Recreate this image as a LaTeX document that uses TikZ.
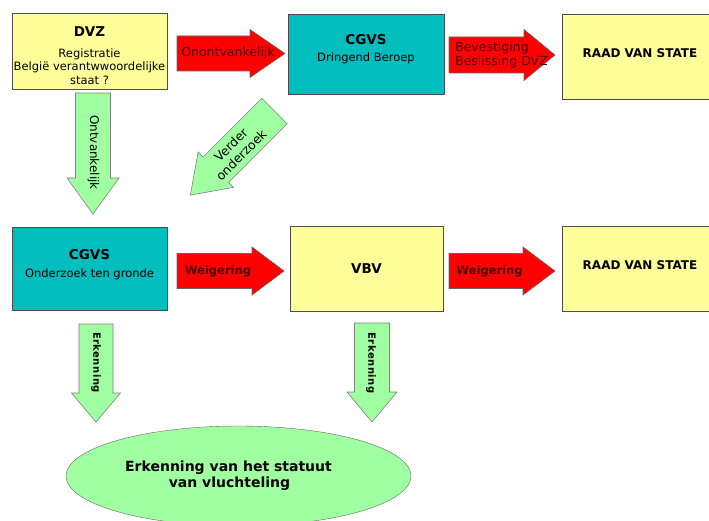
\documentclass[tikz,border=0pt]{standalone}
\usepackage{fontspec}
\setmainfont{DejaVu Sans}
\usepackage{tikz}
\usetikzlibrary{positioning,shapes.geometric}

\definecolor{boxyellow}{HTML}{FFFF99}
\definecolor{boxteal}{HTML}{00BEBE}
\definecolor{arrowred}{HTML}{FF0000}
\definecolor{arrowgreen}{HTML}{A0FFA0}
\definecolor{redtext}{HTML}{4A0000}

\newcommand{\titlefont}{\fontsize{13.5}{16}\selectfont\bfseries}
\newcommand{\plainfont}{\fontsize{11.5}{13.5}\selectfont}
\newcommand{\arrowfont}{\fontsize{12.5}{14.5}\selectfont}
\newcommand{\erkfont}{\fontsize{10}{12}\selectfont\bfseries\addfontfeature{LetterSpace=5}}

% style, length, shaft width, head width, head length
\newcommand{\blockarrow}[5]{%
  \draw[#1] (0,{-#3/2}) -- ({#2-#5},{-#3/2}) -- ({#2-#5},{-#4/2}) -- (#2,0)
     -- ({#2-#5},{#4/2}) -- ({#2-#5},{#3/2}) -- (0,{#3/2}) -- cycle;}

\begin{document}
\begin{tikzpicture}[x=1pt, y=-1pt,
        stage/.style={draw=black!70, line width=0.8pt, minimum width=155pt,
                      minimum height=80pt, align=center, inner sep=0pt, font=\plainfont},
        yellowstage/.style={stage, fill=boxyellow},
        tealstage/.style={stage, fill=boxteal},
        refusal/.style={draw=black!60, line width=0.6pt, fill=arrowred},
        accept/.style={draw=black!50, line width=0.6pt, fill=arrowgreen},
        redlabel/.style={text=redtext, font=\arrowfont, inner sep=0pt},
        greenlabel/.style={font=\arrowfont, inner sep=0pt}
    ]
    \useasboundingbox (0,0) rectangle (709,521);

    % top row
    \node[yellowstage, minimum height=76pt] (dvz) at (89.5,51)
        {\rule{0pt}{19pt}{\titlefont DVZ}\\[7pt] Registratie\\België verantwwoordelijke\\staat ?};
    \node[tealstage, minimum width=156pt] (cgvstop) at (366,54)
        {{\titlefont CGVS}\\[4pt] Dringend Beroep\\[-1pt]};
    \node[yellowstage, minimum width=156pt, minimum height=85pt,
          font=\fontsize{12}{14}\selectfont\bfseries] (rvstop) at (640,56.5)
        {RAAD VAN STATE\\[-8pt]};

    % bottom row
    \node[tealstage, minimum height=83pt] (cgvsbot) at (89.5,268.5)
        {{\titlefont CGVS}\\[4pt] Onderzoek ten gronde\\[-3pt]};
    \node[yellowstage, minimum width=153pt, minimum height=85pt, font=\titlefont] (vbv) at (366.5,268.5)
        {VBV};
    \node[yellowstage, minimum width=156pt, minimum height=85pt,
          font=\fontsize{12}{14}\selectfont\bfseries] (rvsbot) at (640,268.5)
        {RAAD VAN STATE\\[-6.5pt]};

    \node[ellipse, draw=black!60, fill=arrowgreen, minimum width=345pt, minimum height=100pt,
          align=center, font=\fontsize{14}{16}\selectfont\bfseries] (status) at (238.5,476)
        {Erkenning van het statuut\hspace*{20pt}\\van vluchteling\hspace*{18pt}};

    % block arrows
    \blockarrow{refusal, shift={(177,53.5)}}{108}{35}{48}{35}
    \blockarrow{refusal, shift={(449,55)}}{106}{36}{51}{31}
    \blockarrow{refusal, shift={(177,271)}}{107}{35}{48}{32}
    \blockarrow{refusal, shift={(449,271)}}{106}{35}{48}{32}
    \blockarrow{accept, shift={(93,93)}, rotate=-90}{121}{35}{52}{36}
    \blockarrow{accept, shift={(274.5,111)}, rotate=-135}{119}{36}{50}{36}
    \blockarrow{accept, shift={(96,324)}, rotate=-90}{98}{34}{49}{29}
    \blockarrow{accept, shift={(372,323)}, rotate=-90}{99}{35}{50}{30}

    % arrow labels
    \node[redlabel] (inadm) at (228,53.5) {Onontvankelijk};
    \node[redlabel, align=left, anchor=west, font=\arrowfont] (confirm) at (455,55)
        {Bevestiging\\Beslissing DVZ};
    \node[redlabel, font=\plainfont\bfseries] (refuse1) at (218,271) {Weigering};
    \node[redlabel, font=\plainfont\bfseries] (refuse2) at (489.5,271) {Weigering};
    \node[greenlabel, rotate=-90, font=\fontsize{12}{14}\selectfont] (adm) at (93.5,152.5) {Ontvankelijk};
    \node[greenlabel, rotate=45, align=center] (further) at (236,150) {Verder\\onderzoek};
    \node[greenlabel, rotate=-90, font=\erkfont] (recog1) at (96,362.5) {Erkenning};
    \node[greenlabel, rotate=-90, font=\erkfont] (recog2) at (371,363) {Erkenning};
\end{tikzpicture}
\end{document}
